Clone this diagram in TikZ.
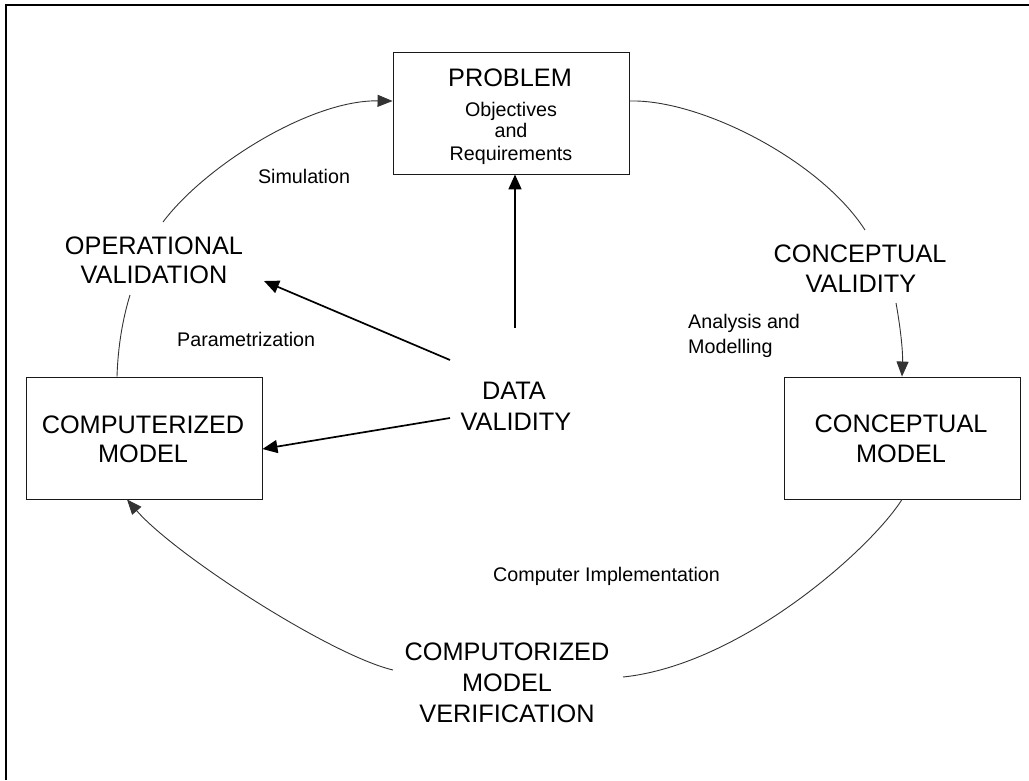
\documentclass[tikz,border=0pt]{standalone}
\usepackage{fontspec}
\setmainfont{Liberation Sans}
\usetikzlibrary{arrows.meta}
\newcommand\LabBig{\fontsize{25.3}{30}\selectfont}
\newcommand\LabSmall{\fontsize{19.7}{23}\selectfont}
\begin{document}
\begin{tikzpicture}[x=1pt,y=-1pt,
  box/.style={draw=black!90,line width=0.9pt,minimum width=236pt,minimum height=122pt,inner sep=0pt},
  big/.style={font=\LabBig,inner sep=0pt,anchor=base},
  small/.style={font=\LabSmall,inner sep=0pt,anchor=base},
  cyc/.style={draw=black!80,line width=0.9pt},
  tip/.style={-{Triangle[length=15pt,width=12pt]}},
  dataarrow/.style={draw=black,line width=1.7pt,-{Triangle[length=15pt,width=13pt]}}]
\useasboundingbox (0,0) rectangle (1029,780);
\fill[white] (0,0) rectangle (1029,780);
\draw[line width=2pt] (6,780) -- (6,5.3) -- (1029,5.3);

% boxes
\node[box] (prob) at (511,113) {};
\node[box] (cm) at (902,438) {};
\node[box] (comp) at (144,438) {};

% box texts
\node[big] (probT) at (510,86) {PROBLEM};
\node[small] (probO) at (511,116) {Objectives};
\node[small] (probA) at (511,137) {and};
\node[small] (probR) at (511,160) {Requirements};
\node[big] (cmT1) at (901,432) {CONCEPTUAL};
\node[big] (cmT2) at (901,462) {MODEL};
\node[big] (compT1) at (143,433) {COMPUTERIZED};
\node[big] (compT2) at (143,462) {MODEL};

% labels
\node[big] (ov1) at (154,254) {OPERATIONAL};
\node[big] (ov2) at (154,283) {VALIDATION};
\node[big] (cv1) at (860,262) {CONCEPTUAL};
\node[big] (cv2) at (861,292) {VALIDITY};
\node[big] (dv1) at (514,399) {DATA};
\node[big] (dv2) at (516,430) {VALIDITY};
\node[big] (mv1) at (507,660) {COMPUTORIZED};
\node[big] (mv2) at (507,691) {MODEL};
\node[big] (mv3) at (507,722) {VERIFICATION};
\node[small] (sim) at (304,183) {Simulation};
\node[small,anchor=base west] (par) at (177,346) {Parametrization};
\node[small,anchor=base west] (ana1) at (688,328) {Analysis and};
\node[small,anchor=base west] (ana2) at (688,353) {Modelling};
\node[small,anchor=base west] (ci) at (493,581) {Computer Implementation};

% curve end points near labels
\coordinate (ovS) at (130,295);
\coordinate (ovN) at (163,222);
\coordinate (cvN) at (865,230);
\coordinate (cvS) at (896,303);
\coordinate (mvE) at (623,677);
\coordinate (mvW) at (393,670);
\coordinate (dvA) at (450,360);
\coordinate (dvB) at (450,418);
\coordinate (dvC) at (515,328);
\coordinate (ovTip) at (264,281);

% cycle
\draw[cyc] ([xshift=-27pt]comp.north) .. controls (118,345) and (123,318) .. (ovS);
\draw[cyc,tip] (ovN) .. controls (205,166) and (310,100) .. ([yshift=12pt]prob.west);
\draw[cyc] ([yshift=12pt]prob.east) .. controls (700,99) and (820,160) .. (cvN);
\draw[cyc,tip] (cvS) .. controls (900,325) and (903,350) .. (cm.north);
\draw[cyc] (cm.south) .. controls (870,550) and (740,665) .. (mvE);
\draw[cyc,tip] (mvW) .. controls (330,655) and (175,555) .. ([xshift=-17pt]comp.south);

% data validity arrows
\draw[dataarrow] (dvA) -- (ovTip);
\draw[dataarrow] (dvB) -- ([yshift=-11pt]comp.east);
\draw[dataarrow] (dvC) -- ([xshift=4pt]prob.south);
\end{tikzpicture}
\end{document}
